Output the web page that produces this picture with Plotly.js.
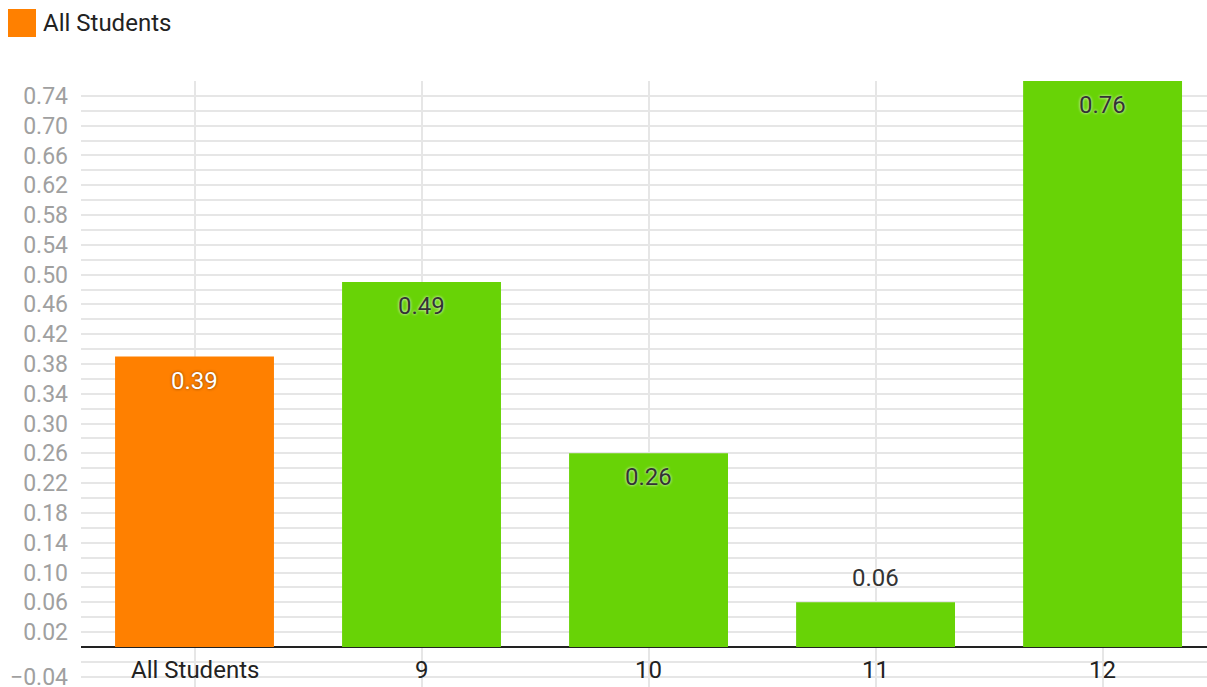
<!DOCTYPE html>
<html>
<head>
<meta charset="utf-8">
<script src="https://cdn.plot.ly/plotly-3.0.1.min.js"></script>
<style>
  html, body { margin: 0; padding: 0; background: #fff; }
  #chart { width: 1207px; height: 687px; }
</style>
</head>
<body>
<div id="chart"></div>
<script>
// Average score by group: overall vs. each grade
const categories = ['All Students', '9', '10', '11', '12'];
const values = [0.39, 0.49, 0.26, 0.06, 0.76];
const legendLabel = 'All Students';
const yTickVals = [-0.04, 0.02, 0.06, 0.10, 0.14, 0.18, 0.22, 0.26, 0.30, 0.34, 0.38, 0.42, 0.46, 0.50, 0.54, 0.58, 0.62, 0.66, 0.70, 0.74];
const yTickText = ['\u22120.04', '0.02', '0.06', '0.10', '0.14', '0.18', '0.22', '0.26', '0.30', '0.34', '0.38', '0.42', '0.46', '0.50', '0.54', '0.58', '0.62', '0.66', '0.70', '0.74'];

const ORANGE = '#ff8000';
const GREEN = '#68d306';
const FONT = 'Roboto, "Noto Sans", sans-serif';

const overall = {
  type: 'bar',
  x: [categories[0]],
  y: [values[0]],
  marker: { color: ORANGE },
  width: 0.7,
  hoverinfo: 'x+y',
  showlegend: false
};
const grades = {
  type: 'bar',
  x: categories.slice(1),
  y: values.slice(1),
  marker: { color: GREEN },
  width: 0.7,
  hoverinfo: 'x+y',
  showlegend: false
};

// value labels: inside near the top of tall bars, above short ones
const annotations = values.map((v, i) => {
  const inside = v > 0.1;
  const white = i === 0;
  return {
    x: i, y: v, xref: 'x', yref: 'y',
    text: v.toFixed(2), showarrow: false,
    yshift: inside ? -24 : 24,
    font: {
      family: FONT, size: 24,
      color: white ? '#ffffff' : '#333333',
      shadow: white ? '0px 0px 3px #7a3d00' : '0px 0px 3px #ffffff'
    }
  };
});

// category labels sit just under the zero line, inside the plot
categories.forEach((c, i) => {
  annotations.push({
    x: i, y: 0, xref: 'x', yref: 'y', text: c, showarrow: false,
    yshift: -23, font: { family: FONT, size: 24, color: '#222222' }
  });
});

// legend entry (pixel positions converted to paper fractions below)
const plotW = 1207 - 81, plotH = 687 - 81;
annotations.push({
  x: (41 - 81) / plotW, y: (687 - 23) / plotH, xref: 'paper', yref: 'paper',
  text: legendLabel, showarrow: false, xanchor: 'left', yanchor: 'middle',
  font: { family: FONT, size: 24, color: '#222222' }
});

const layout = {
  width: 1207, height: 687,
  margin: { l: 81, r: 0, t: 81, b: 0, pad: 0 },
  paper_bgcolor: '#ffffff', plot_bgcolor: '#ffffff',
  font: { family: FONT },
  barmode: 'overlay',
  xaxis: {
    type: 'category',
    categoryorder: 'array', categoryarray: categories,
    range: [-0.5, 4.46],
    showticklabels: false,
    showgrid: true, gridcolor: '#e6e6e6', gridwidth: 2,
    zeroline: false, showline: false, ticks: '', fixedrange: true
  },
  yaxis: {
    range: [-0.0537, 0.76],
    tickvals: yTickVals, ticktext: yTickText,
    tickfont: { family: FONT, size: 23, color: '#a0a0a0' },
    ticks: '', ticklabelstandoff: 12, ticklabeloverflow: 'allow',
    showgrid: true, gridcolor: '#e6e6e6', gridwidth: 2,
    minor: { dtick: 0.02, tick0: 0, showgrid: true, gridcolor: '#e6e6e6', gridwidth: 2 },
    zeroline: true, zerolinecolor: '#222222', zerolinewidth: 2,
    showline: false, fixedrange: true
  },
  shapes: [{
    type: 'rect', xref: 'paper', yref: 'paper',
    x0: (8 - 81) / plotW, x1: (36 - 81) / plotW,
    y0: (687 - 37) / plotH, y1: (687 - 9) / plotH,
    fillcolor: ORANGE, line: { width: 0 }
  }],
  annotations: annotations,
  showlegend: false
};

Plotly.newPlot('chart', [overall, grades], layout, { displayModeBar: false, staticPlot: true });
</script>
</body>
</html>
